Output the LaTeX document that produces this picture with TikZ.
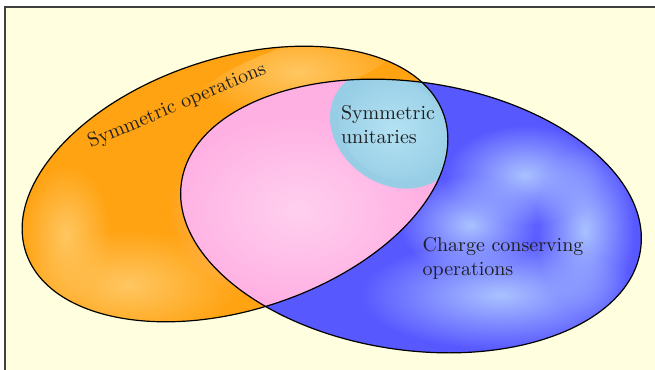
\documentclass[tikz,border=0pt]{standalone}
\usetikzlibrary{fadings}
\definecolor{bgyellow}{HTML}{FFFEDF}
\definecolor{orangeA}{HTML}{FFA312}
\definecolor{orangeB}{HTML}{FFC762}
\definecolor{blueA}{HTML}{5858FF}
\definecolor{blueB}{HTML}{AAC2FF}
\definecolor{pinkA}{HTML}{FFB0E3}
\definecolor{pinkB}{HTML}{FFD0EF}
\definecolor{lblueA}{HTML}{97CEE6}
\definecolor{lblueB}{HTML}{B4E2F3}
\tikzfading[name=softfade, inner color=transparent!0, outer color=transparent!100]
\begin{document}
\begin{tikzpicture}[x=0.5pt,y=-0.5pt,
  outline/.style={draw=black, line width=0.6pt},
  glow/.style={path fading=softfade},
  lbl/.style={font=\normalsize, align=left, text=black!88, inner sep=0pt}]
\useasboundingbox (0,0) rectangle (655,370);
\fill[white] (0,0) rectangle (655,370);
\fill[bgyellow] (5,7) rectangle (655,370);
\draw[black!75, line width=0.8pt] (655,7) -- (5,7) -- (5,370);
% orange set
\fill[orangeA, shift={(235,184)}, rotate=18] (0,0) ellipse [x radius=220, y radius=126];
\begin{scope}
  \clip[shift={(235,184)}, rotate=18] (0,0) ellipse [x radius=220, y radius=126];
  \fill[orangeB, glow] (128,285) ellipse [x radius=110, y radius=55];
  \fill[orangeB, glow] (66,235) ellipse [x radius=45, y radius=70];
  \fill[orangeB, glow, rotate around={18:(298,72)}] (298,72) ellipse [x radius=110, y radius=28];
\end{scope}
% blue set
\fill[blueA, shift={(411,216)}, rotate=-8.4] (0,0) ellipse [x radius=232, y radius=134];
\begin{scope}
  \clip[shift={(411,216)}, rotate=-8.4] (0,0) ellipse [x radius=232, y radius=134];
  \fill[blueB, glow] (500,295) ellipse [x radius=140, y radius=55];
  \fill[blueB, glow] (585,230) ellipse [x radius=50, y radius=85];
  \fill[blueB, glow] (525,175) ellipse [x radius=80, y radius=50];
  \fill[blueB, glow] (470,225) ellipse [x radius=70, y radius=50];
\end{scope}
% intersection (pink) and symmetric unitaries
\begin{scope}
  \clip[shift={(235,184)}, rotate=18] (0,0) ellipse [x radius=220, y radius=126];
  \fill[pinkA, shift={(411,216)}, rotate=-8.4] (0,0) ellipse [x radius=232, y radius=134];
  \fill[pinkB, glow] (298,210) ellipse [x radius=130, y radius=95];
  \clip[shift={(411,216)}, rotate=-8.4] (0,0) ellipse [x radius=232, y radius=134];
  \fill[lblueA, shift={(394,129)}, rotate=-35] (0,0) ellipse [x radius=68, y radius=55];
  \fill[lblueB, glow, shift={(394,129)}, rotate=-35] (0,0) ellipse [x radius=60, y radius=48];
\end{scope}
% outlines
\draw[outline, shift={(235,184)}, rotate=18] (0,0) ellipse [x radius=220, y radius=126];
\draw[outline, shift={(411,216)}, rotate=-8.4] (0,0) ellipse [x radius=232, y radius=134];
% labels
\node[lbl, rotate=23] (so) at (177,106) {Symmetric operations};
\node[lbl] (su) at (388,125) {Symmetric\\unitaries};
\node[lbl] (cc) at (503,258) {Charge conserving\\operations};
\end{tikzpicture}
\end{document}
